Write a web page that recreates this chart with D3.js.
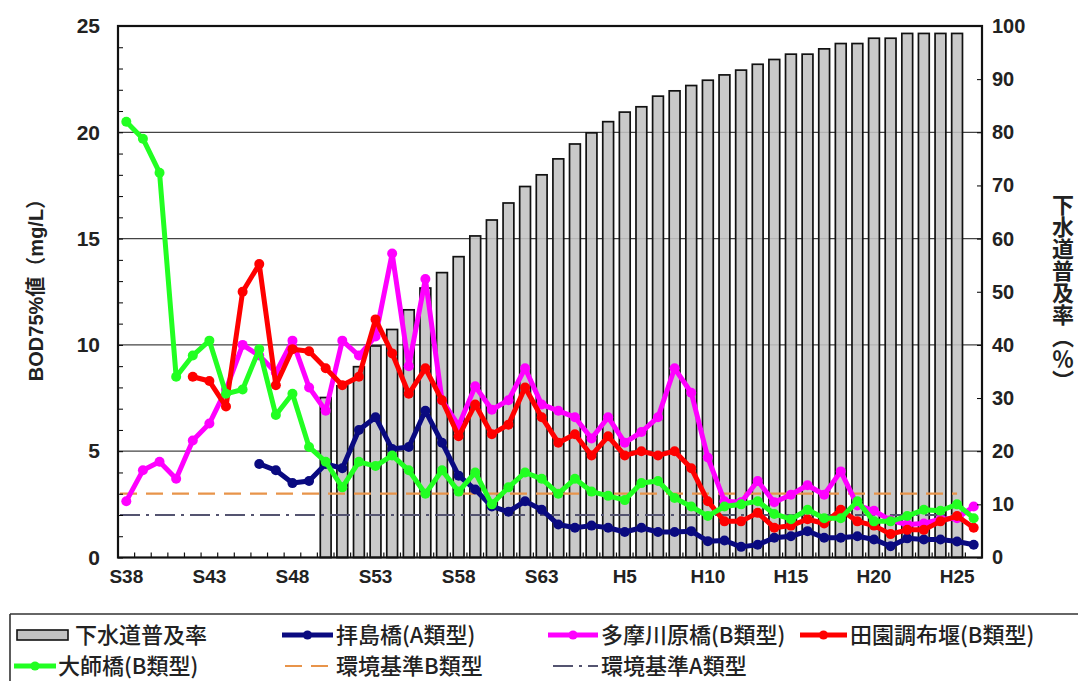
<!DOCTYPE html>
<html><head><meta charset="utf-8">
<script src="https://cdn.jsdelivr.net/npm/d3@7"></script>
<style>
html,body{margin:0;padding:0;background:#fff;}
svg{display:block;}
.tick text{font-family:"Liberation Sans",Arial,sans-serif;font-weight:bold;fill:#222;}
</style></head>
<body>
<svg id="chart" width="1078" height="681"></svg>
<script>
// ---- DATA ----
const categories = [
 "S38","S39","S40","S41","S42","S43","S44","S45","S46","S47","S48","S49","S50","S51","S52","S53","S54","S55","S56","S57","S58","S59","S60","S61","S62","S63",
 "H1","H2","H3","H4","H5","H6","H7","H8","H9","H10","H11","H12","H13","H14","H15","H16","H17","H18","H19","H20","H21","H22","H23","H24","H25","H26"];
const xTickLabels = ["S38","S43","S48","S53","S58","S63","H5","H10","H15","H20","H25"];
const leftTicks = [0,5,10,15,20,25];
const rightTicks = [0,10,20,30,40,50,60,70,80,90,100];
// 下水道普及率 (%)
const sewerRate = [null,null,null,null,null,null,null,null,null,null,null,null,
 30.1,32.3,35.9,39.8,42.9,46.6,50.7,53.6,56.6,60.5,63.5,66.7,69.8,72.0,
 75.0,77.8,79.9,82.0,83.8,84.8,86.8,87.8,88.8,89.8,90.8,91.7,92.8,93.7,94.7,94.7,95.7,96.7,96.7,97.7,97.7,98.6,98.6,98.6,98.6,null];
// 拝島橋 (A類型)
const haijima = [null,null,null,null,null,null,null,null,
 4.4,4.1,3.5,3.6,4.4,4.2,6.0,6.6,5.1,5.2,6.9,5.4,3.85,3.2,2.4,2.15,2.65,2.25,
 1.55,1.4,1.5,1.4,1.2,1.4,1.2,1.2,1.24,0.77,0.8,0.5,0.6,0.93,1.0,1.24,0.93,0.93,1.0,0.85,0.53,0.9,0.85,0.85,0.75,0.6];
// 多摩川原橋 (B類型)
const tamagawara = [2.65,4.1,4.5,3.7,5.5,6.3,7.9,10.0,9.5,8.7,10.2,8.0,6.9,10.2,9.5,10.4,14.3,9.0,13.1,7.4,6.2,8.05,6.95,7.4,8.9,7.2,
 6.9,6.6,5.6,6.6,5.4,5.9,6.6,8.9,7.75,4.7,2.65,2.6,3.6,2.6,2.95,3.4,2.95,4.05,2.45,2.2,1.75,1.55,1.6,1.8,1.85,2.4];
// 田園調布堰 (B類型)
const denenchofu = [null,null,null,null,8.5,8.3,7.1,12.5,13.8,8.1,9.8,9.7,8.9,8.1,8.5,11.2,9.6,7.7,8.9,7.4,5.7,7.2,5.8,6.25,8.0,6.6,
 5.4,5.8,4.8,5.7,4.8,5.0,4.8,5.0,4.2,2.65,1.7,1.7,2.1,1.4,1.5,1.8,1.6,2.25,1.7,1.5,1.1,1.3,1.3,1.7,1.95,1.4];
// 大師橋 (B類型)
const daishi = [20.5,19.7,18.1,8.5,9.5,10.2,7.7,7.9,9.8,6.7,7.7,5.2,4.5,3.3,4.5,4.3,4.8,4.1,3.0,4.1,3.1,4.0,2.5,3.3,4.0,3.7,
 3.0,3.7,3.1,2.9,2.7,3.5,3.6,2.8,2.4,1.95,2.4,2.5,2.65,2.05,1.8,2.25,1.85,1.85,2.65,1.7,1.7,1.95,2.25,2.2,2.5,1.85];
const standardB = 3;
const standardA = 2;

// ---- LAYOUT ----
const svg = d3.select("#chart");
const L = 118, R = 982, T = 26, B = 557.5;
const x = d3.scaleBand().domain(categories).range([L, R]).paddingInner(0.35).paddingOuter(0.175);
const cx = c => x(c) + x.bandwidth()/2;
const yL = d3.scaleLinear().domain([0,25]).range([B, T]);
const yR = d3.scaleLinear().domain([0,100]).range([B, T]);

// gridlines
svg.append("g").selectAll("line").data([5,10,15,20]).join("line")
  .attr("x1", L).attr("x2", R).attr("y1", d=>yL(d)).attr("y2", d=>yL(d))
  .attr("stroke", "#444").attr("stroke-width", 1.2);

// bars
svg.append("g").selectAll("rect")
  .data(categories.map((c,i)=>({c, v: sewerRate[i]})).filter(d=>d.v!=null))
  .join("rect")
  .attr("x", d=>x(d.c)).attr("width", x.bandwidth())
  .attr("y", d=>yR(d.v)).attr("height", d=>B - yR(d.v))
  .attr("fill", "#c2c2c2").attr("fill-opacity", 0.88)
  .attr("stroke", "#111").attr("stroke-width", 1.7);

// standard lines
const xStart = L + 2, xEnd = cx("H25");
svg.append("line").attr("x1", xStart).attr("x2", xEnd).attr("y1", yL(standardB)).attr("y2", yL(standardB))
  .attr("stroke", "#e8944a").attr("stroke-width", 2.2).attr("stroke-dasharray", "17,9");
svg.append("line").attr("x1", xStart).attr("x2", xEnd).attr("y1", yL(standardA)).attr("y2", yL(standardA))
  .attr("stroke", "#545470").attr("stroke-width", 2.2).attr("stroke-dasharray", "20,6,3,6");

// series lines
const series = [
  {name:"拝島橋", data: haijima, color:"#0a0a80"},
  {name:"多摩川原橋", data: tamagawara, color:"#ff00ff"},
  {name:"田園調布堰", data: denenchofu, color:"#ff0000"},
  {name:"大師橋", data: daishi, color:"#22ff22"}
];
const line = d3.line().defined(d=>d.v!=null).x(d=>cx(d.c)).y(d=>yL(d.v));
series.forEach(s => {
  const pts = categories.map((c,i)=>({c, v: s.data[i]}));
  const g = svg.append("g");
  g.append("path").datum(pts).attr("d", line).attr("fill","none")
    .attr("stroke", s.color).attr("stroke-width", 5).attr("stroke-linejoin","round");
  g.selectAll("circle").data(pts.filter(d=>d.v!=null)).join("circle")
    .attr("cx", d=>cx(d.c)).attr("cy", d=>yL(d.v)).attr("r", 5).attr("fill", s.color);
});

// axes
const leftAxis = d3.axisLeft(yL).tickValues(d3.range(0,26,1)).tickSize(-5).tickPadding(18)
  .tickFormat(d => leftTicks.includes(d) ? d : "");
const gl = svg.append("g").attr("transform", `translate(${L},0)`).call(leftAxis);
gl.selectAll("text").attr("font-size", 21);
gl.select(".domain").remove();

const rightAxis = d3.axisRight(yR).tickValues(rightTicks).tickSize(-5).tickPadding(10);
const gr = svg.append("g").attr("transform", `translate(${R},0)`).call(rightAxis);
gr.selectAll("text").attr("font-size", 20);
gr.select(".domain").remove();

const bottomAxis = d3.axisBottom(x).tickValues(xTickLabels).tickSize(0).tickPadding(12);
const gb = svg.append("g").attr("transform", `translate(0,${B})`).call(bottomAxis);
gb.selectAll("text").attr("font-size", 19);
gb.select(".domain").remove();
// category boundary ticks
const half = (x.step() - x.bandwidth())/2;
const bounds = categories.map(c => x(c) - half).concat([x(categories[categories.length-1]) + x.bandwidth() + half]);
svg.append("g").selectAll("line").data(bounds).join("line")
  .attr("x1", d=>d).attr("x2", d=>d).attr("y1", B).attr("y2", B-5)
  .attr("stroke", "#111").attr("stroke-width", 1.2);

// frame
svg.append("rect").attr("x", L).attr("y", T).attr("width", R-L).attr("height", B-T)
  .attr("fill","none").attr("stroke","#111").attr("stroke-width", 2.2);

// axis titles
svg.append("text").attr("transform", `translate(43,285) rotate(-90)`)
  .attr("text-anchor","middle").attr("font-family","Liberation Sans, Noto Sans CJK JP, sans-serif")
  .attr("font-weight","bold").attr("font-size", 20).attr("fill","#222")
  .text("BOD75%値（mg/L）");
svg.append("text").attr("x", 1063).attr("y", 194)
  .style("writing-mode","vertical-rl").style("text-orientation","upright")
  .attr("font-family","Noto Sans CJK JP, sans-serif").attr("font-weight","bold")
  .attr("font-size", 22).attr("fill","#222").text("下水道普及率（％）");

// legend
const lg = svg.append("g");
lg.append("line").attr("x1",10).attr("x2",1078).attr("y1",614).attr("y2",614).attr("stroke","#333").attr("stroke-width",1.6);
lg.append("line").attr("x1",10).attr("x2",10).attr("y1",614).attr("y2",681).attr("stroke","#333").attr("stroke-width",1.6);
const legFont = "Noto Sans CJK JP, sans-serif";
const legendItems = [
  {type:"bar", label:"下水道普及率", x0:17, x1:68, tx:75, y:635},
  {type:"line", label:"拝島橋(A類型)", color:"#0a0a80", x0:282, x1:333, tx:336, y:635},
  {type:"line", label:"多摩川原橋(B類型)", color:"#ff00ff", x0:548, x1:598, tx:601, y:635},
  {type:"line", label:"田園調布堰(B類型)", color:"#ff0000", x0:800, x1:847, tx:850, y:635},
  {type:"line", label:"大師橋(B類型)", color:"#22ff22", x0:14, x1:56, tx:58, y:666},
  {type:"dash", label:"環境基準B類型", color:"#e8944a", dash:"17,9", x0:285, x1:333, tx:336, y:666},
  {type:"dash", label:"環境基準A類型", color:"#545470", dash:"20,6,3,6", x0:553, x1:598, tx:601, y:666}
];
legendItems.forEach(it => {
  if (it.type === "bar") {
    lg.append("rect").attr("x", it.x0).attr("y", it.y-5).attr("width", it.x1-it.x0).attr("height", 10)
      .attr("fill","#c2c2c2").attr("stroke","#111").attr("stroke-width",1.6);
  } else {
    lg.append("line").attr("x1", it.x0).attr("x2", it.x1).attr("y1", it.y).attr("y2", it.y)
      .attr("stroke", it.color).attr("stroke-width", it.type==="line"?5:2.2)
      .attr("stroke-dasharray", it.dash || null);
    if (it.type === "line") lg.append("circle").attr("cx", (it.x0+it.x1)/2).attr("cy", it.y).attr("r", 4.6).attr("fill", it.color);
  }
  lg.append("text").attr("x", it.tx).attr("y", it.y).attr("dy","0.36em")
    .attr("font-family", legFont).attr("font-size", 22).attr("font-weight", 500).attr("fill","#222").text(it.label);
});
</script>
</body></html>
